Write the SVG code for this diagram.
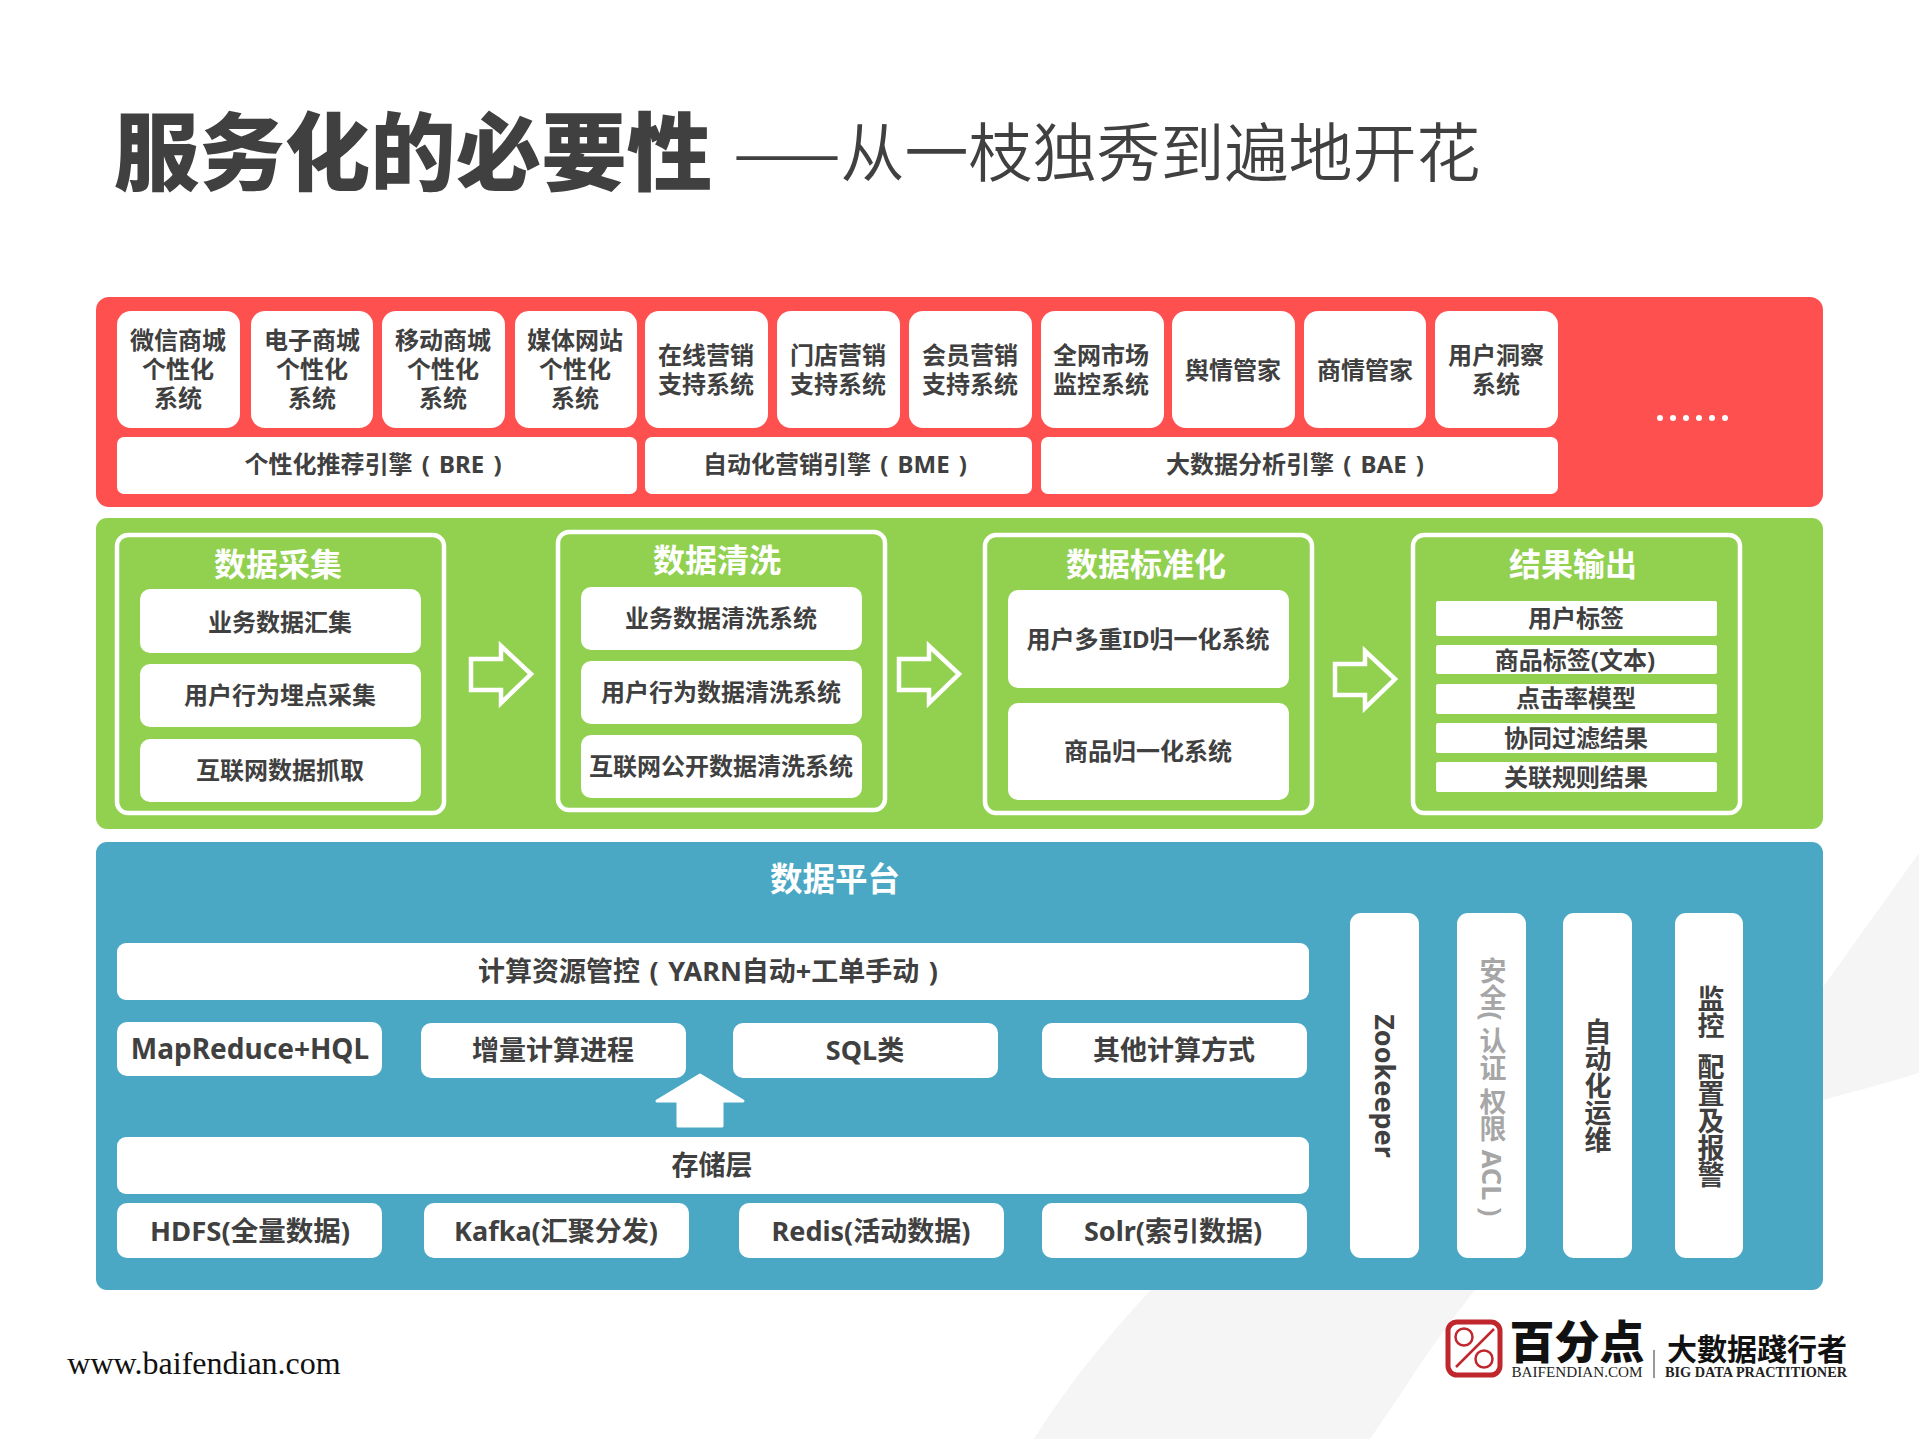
<svg xmlns="http://www.w3.org/2000/svg" width="1919" height="1439" viewBox="0 0 1919 1439">
<style>
text{font-family:"Noto Sans","Noto Sans CJK SC",sans-serif;font-weight:700;fill:#404040;text-anchor:middle;dominant-baseline:central}
.t24,.t27,.h32{transform:translateY(-0.8px)}
.t24{font-size:24px}
.t27{font-size:27px}
.e{word-spacing:3px}
.h32{font-size:32px;fill:#fff}
.frame{fill:none;stroke:#fff;stroke-width:4.5}
.arrow{fill:none;stroke:#fff;stroke-width:4.5;stroke-linejoin:miter}
.v{font-size:27px;writing-mode:vertical-rl}
.serif{font-family:"Liberation Serif",serif}
</style>
<rect width="1919" height="1439" fill="#fff"/>
<g id="background" fill="#f5f5f5">
<path d="M1034 1439C1090 1350 1170 1260 1300 1150L1580 1150C1520 1240 1460 1300 1400 1395L1370 1439Z"/>
<path d="M1823 987L1919 853V1073C1890 1082 1860 1090 1823 1100Z"/>
</g>
<g id="title">
<text x="413" y="147" style="font-size:85.5px;font-weight:900;font-family:'Noto Sans CJK SC',sans-serif">服务化的必要性</text>
<text x="1107" y="148" style="font-size:64px;font-weight:350;font-family:'Noto Sans CJK SC',sans-serif">——从一枝独秀到遍地开花</text>
</g>
<g id="panel-red">
<rect x="96" y="297" width="1727" height="210" rx="13" fill="#ff5050"/>
<g fill="#fff">
<g id="n-wechat"><rect x="117" y="311" width="123" height="117" rx="14"/><text class="t24" x="178" y="340">微信商城</text><text class="t24" x="178" y="369">个性化</text><text class="t24" x="178" y="398">系统</text></g>
<g id="n-ecom"><rect x="251" y="311" width="122" height="117" rx="14"/><text class="t24" x="312" y="340">电子商城</text><text class="t24" x="312" y="369">个性化</text><text class="t24" x="312" y="398">系统</text></g>
<g id="n-mobile"><rect x="382" y="311" width="123" height="117" rx="14"/><text class="t24" x="443" y="340">移动商城</text><text class="t24" x="443" y="369">个性化</text><text class="t24" x="443" y="398">系统</text></g>
<g id="n-media"><rect x="515" y="311" width="122" height="117" rx="14"/><text class="t24" x="575" y="340">媒体网站</text><text class="t24" x="575" y="369">个性化</text><text class="t24" x="575" y="398">系统</text></g>
<g id="n-online"><rect x="645" y="311" width="123" height="117" rx="14"/><text class="t24" x="706" y="355">在线营销</text><text class="t24" x="706" y="384">支持系统</text></g>
<g id="n-store"><rect x="777" y="311" width="123" height="117" rx="14"/><text class="t24" x="838" y="355">门店营销</text><text class="t24" x="838" y="384">支持系统</text></g>
<g id="n-member"><rect x="909" y="311" width="123" height="117" rx="14"/><text class="t24" x="970" y="355">会员营销</text><text class="t24" x="970" y="384">支持系统</text></g>
<g id="n-market"><rect x="1041" y="311" width="123" height="117" rx="14"/><text class="t24" x="1101" y="355">全网市场</text><text class="t24" x="1101" y="384">监控系统</text></g>
<g id="n-opinion"><rect x="1172" y="311" width="123" height="117" rx="14"/><text class="t24" x="1233" y="370">舆情管家</text></g>
<g id="n-biz"><rect x="1304" y="311" width="122" height="117" rx="14"/><text class="t24" x="1365" y="370">商情管家</text></g>
<g id="n-insight"><rect x="1435" y="311" width="123" height="117" rx="14"/><text class="t24" x="1496" y="355">用户洞察</text><text class="t24" x="1496" y="384">系统</text></g>
<g id="n-bre"><rect x="117" y="437" width="520" height="57" rx="7"/><text class="t24 e" x="373" y="464">个性化推荐引擎 ( BRE )</text></g>
<g id="n-bme"><rect x="645" y="437" width="387" height="57" rx="7"/><text class="t24 e" x="835" y="464">自动化营销引擎 ( BME )</text></g>
<g id="n-bae"><rect x="1041" y="437" width="517" height="57" rx="7"/><text class="t24 e" x="1295" y="464">大数据分析引擎 ( BAE )</text></g>
<g id="n-more"><circle cx="1660" cy="418" r="3"/><circle cx="1673" cy="418" r="3"/><circle cx="1686" cy="418" r="3"/><circle cx="1699" cy="418" r="3"/><circle cx="1712" cy="418" r="3"/><circle cx="1725" cy="418" r="3"/></g>
</g>
</g>
<g id="panel-green">
<rect x="96" y="518" width="1727" height="311" rx="11" fill="#92d050"/>
<g fill="#fff">
<g id="n-collect"><rect class="frame" x="117" y="535" width="327" height="278" rx="11"/><text class="h32" x="278" y="564">数据采集</text>
<rect x="140" y="589" width="281" height="64" rx="10"/><text class="t24" x="280" y="622">业务数据汇集</text>
<rect x="140" y="664" width="281" height="63" rx="10"/><text class="t24" x="280" y="695">用户行为埋点采集</text>
<rect x="140" y="739" width="281" height="63" rx="10"/><text class="t24" x="280" y="770">互联网数据抓取</text></g>
<g id="n-clean"><rect class="frame" x="558" y="532" width="327" height="278" rx="11"/><text class="h32" x="717" y="560">数据清洗</text>
<rect x="581" y="587" width="281" height="63" rx="10"/><text class="t24" x="721" y="618">业务数据清洗系统</text>
<rect x="581" y="661" width="281" height="63" rx="10"/><text class="t24" x="721" y="692">用户行为数据清洗系统</text>
<rect x="581" y="735" width="281" height="63" rx="10"/><text class="t24" x="721" y="766">互联网公开数据清洗系统</text></g>
<g id="n-standard"><rect class="frame" x="985" y="535" width="327" height="278" rx="11"/><text class="h32" x="1146" y="564">数据标准化</text>
<rect x="1008" y="590" width="281" height="98" rx="10"/><text class="t24" x="1148" y="639">用户多重ID归一化系统</text>
<rect x="1008" y="703" width="281" height="97" rx="10"/><text class="t24" x="1148" y="751">商品归一化系统</text></g>
<g id="n-output"><rect class="frame" x="1413" y="535" width="327" height="278" rx="11"/><text class="h32" x="1573" y="564">结果输出</text>
<rect x="1436" y="601" width="281" height="35" rx="2"/><text class="t24" x="1576" y="618">用户标签</text>
<rect x="1436" y="645" width="281" height="29" rx="2"/><text class="t24" x="1575" y="660">商品标签(文本)</text>
<rect x="1436" y="684" width="281" height="30" rx="2"/><text class="t24" x="1576" y="698">点击率模型</text>
<rect x="1436" y="723" width="281" height="30" rx="2"/><text class="t24" x="1576" y="738">协同过滤结果</text>
<rect x="1436" y="762" width="281" height="30" rx="2"/><text class="t24" x="1576" y="777">关联规则结果</text></g>
</g>
</g>
<g id="panel-blue">
<rect x="96" y="842" width="1727" height="448" rx="11" fill="#4ba8c4"/>
<text class="h32" x="835" y="879" style="font-size:32.5px">数据平台</text>
<g fill="#fff">
<g id="n-yarn"><rect x="117" y="943" width="1192" height="57" rx="9"/><text class="t27" x="708" y="971" style="word-spacing:2.5px">计算资源管控 ( YARN自动+工单手动 )</text></g>
<g id="n-mr"><rect x="117" y="1022" width="265" height="54" rx="10"/><text class="t27" x="250" y="1049" style="font-size:28px">MapReduce+HQL</text></g>
<g id="n-inc"><rect x="421" y="1023" width="265" height="55" rx="10"/><text class="t27" x="553" y="1050">增量计算进程</text></g>
<g id="n-sql"><rect x="733" y="1023" width="265" height="55" rx="10"/><text class="t27" x="865" y="1050">SQL类</text></g>
<g id="n-other"><rect x="1042" y="1023" width="265" height="55" rx="10"/><text class="t27" x="1174" y="1050">其他计算方式</text></g>
<g id="n-storage"><rect x="117" y="1137" width="1192" height="57" rx="9"/><text class="t27" x="712" y="1165">存储层</text></g>
<g id="n-hdfs"><rect x="117" y="1203" width="265" height="55" rx="10"/><text class="t27" x="250" y="1231" style="font-size:27.5px">HDFS(全量数据)</text></g>
<g id="n-kafka"><rect x="424" y="1203" width="265" height="55" rx="10"/><text class="t27" x="556" y="1231">Kafka(汇聚分发)</text></g>
<g id="n-redis"><rect x="739" y="1203" width="265" height="55" rx="10"/><text class="t27" x="871" y="1231">Redis(活动数据)</text></g>
<g id="n-solr"><rect x="1042" y="1203" width="265" height="55" rx="10"/><text class="t27" x="1173" y="1231">Solr(索引数据)</text></g>
<g id="n-zk"><rect x="1350" y="913" width="69" height="345" rx="11"/><text class="v" x="1385" y="1086">Zookeeper</text></g>
<g id="n-sec"><rect x="1457" y="913" width="69" height="345" rx="11"/><text class="v" x="1492" y="1087" style="fill:#a6a6a6">安全( 认证 权限 ACL )</text></g>
<g id="n-ops"><rect x="1563" y="913" width="69" height="345" rx="11"/><text class="v" x="1597" y="1086">自动化运维</text></g>
<g id="n-mon"><rect x="1675" y="913" width="68" height="345" rx="11"/><text class="v" x="1710" y="1087" xml:space="preserve">监控  配置及报警</text></g>
</g>
</g>
<g id="connectors">
<path class="arrow" d="M471 659H501V646L531 674L501 703V690H471Z"/>
<path class="arrow" d="M899 659H929V646L959 674L929 703V690H899Z"/>
<path class="arrow" d="M1335 664H1365V651L1395 679L1365 708V695H1335Z"/>
<path fill="#fff" stroke="#fff" stroke-width="3" stroke-linejoin="round" d="M700 1075L743 1101H722V1126H678V1101H657Z"/>
</g>
<g id="footer">
<text class="serif" x="204" y="1363" style="font-size:32px;font-weight:400;fill:#111">www.baifendian.com</text>
<g id="logo">
<rect x="1448" y="1322" width="52" height="53" rx="9" fill="none" stroke="#c0272d" stroke-width="5"/>
<circle cx="1464" cy="1337" r="8.5" fill="none" stroke="#c0272d" stroke-width="2.5"/>
<circle cx="1484" cy="1359" r="8.5" fill="none" stroke="#c0272d" stroke-width="2.5"/>
<path d="M1494 1329L1456 1367" stroke="#c0272d" stroke-width="2.5"/>
<text x="1577" y="1339" style="font-size:45px;font-weight:900;fill:#111;font-family:'Noto Sans CJK SC',sans-serif">百分点</text>
<text class="serif" x="1577" y="1372" textLength="131" lengthAdjust="spacingAndGlyphs" style="font-size:14px;font-weight:400;fill:#222">BAIFENDIAN.COM</text>
<path d="M1654 1350V1378" stroke="#777" stroke-width="1.5"/>
<text x="1757" y="1347" style="font-size:30px;font-weight:700;fill:#111;font-family:'Noto Sans CJK TC',sans-serif">大數据踐行者</text>
<text class="serif" x="1756" y="1372" textLength="182" lengthAdjust="spacingAndGlyphs" style="font-size:14px;fill:#222">BIG DATA PRACTITIONER</text>
</g>
</g>
</svg>
